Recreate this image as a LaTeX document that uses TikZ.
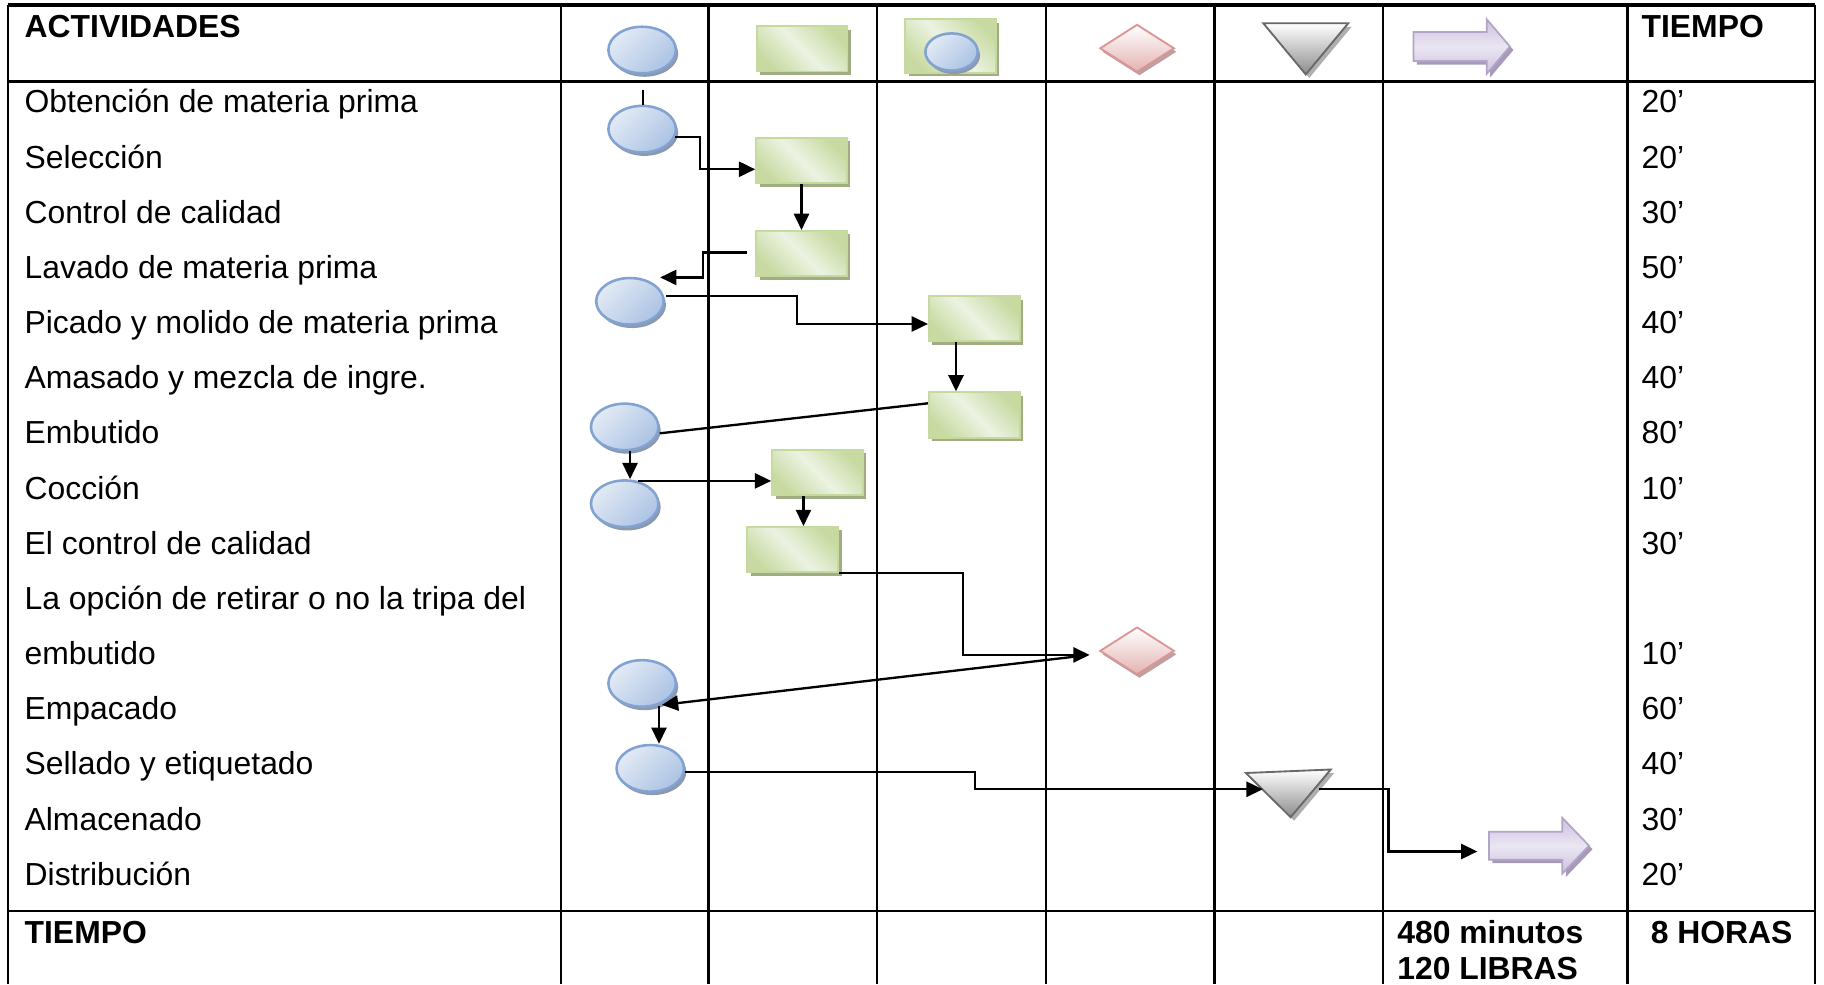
\documentclass[tikz,border=0pt]{standalone}
\usepackage{fontspec}
\setmainfont{Liberation Sans}
\usetikzlibrary{shapes.geometric,shadows,arrows.meta,calc}
\definecolor{ellB}{RGB}{130,163,210}
\definecolor{ellL}{RGB}{226,234,245}
\definecolor{ellD}{RGB}{172,195,228}
\definecolor{ellS}{RGB}{140,152,172}
\definecolor{recB}{RGB}{198,218,160}
\definecolor{recL}{RGB}{236,243,226}
\definecolor{recD}{RGB}{200,218,162}
\definecolor{recS}{RGB}{160,172,130}
\definecolor{diaB}{RGB}{218,150,148}
\definecolor{diaD}{RGB}{228,178,178}
\definecolor{diaS}{RGB}{190,160,160}
\definecolor{triB}{RGB}{105,105,105}
\definecolor{triD}{RGB}{140,140,140}
\definecolor{triS}{RGB}{175,175,175}
\definecolor{arrB}{RGB}{180,164,200}
\definecolor{arrL}{RGB}{234,230,242}
\definecolor{arrD}{RGB}{204,193,222}
\definecolor{arrS}{RGB}{165,155,185}
\tikzset{
  tline/.style={line width=2pt},
  conn/.style={line width=2pt,-{Triangle[length=14pt,width=13pt]}},
  plainline/.style={line width=2pt},
  oper/.style={ellipse,draw=ellB,line width=2.2pt,minimum width=58pt,minimum height=40pt,inner sep=0pt,
     top color=ellL,bottom color=ellD,shading angle=45,
     drop shadow={shadow xshift=2pt,shadow yshift=-3pt,fill=ellS,opacity=1}},
  insp/.style={rectangle,draw=recB,line width=1.6pt,minimum width=78pt,minimum height=39pt,inner sep=0pt,
     left color=recD,right color=recD,middle color=recL,shading angle=135,
     drop shadow={shadow xshift=3pt,shadow yshift=-3pt,fill=recS,opacity=1}},
  decis/.style={diamond,draw=diaB,line width=1.6pt,minimum width=64pt,minimum height=41pt,inner sep=0pt,
     top color=white,bottom color=diaD,
     drop shadow={shadow xshift=2pt,shadow yshift=-3pt,fill=diaS,opacity=1}},
  anchorbox/.style={inner sep=0pt,outer sep=0pt},
  tri/.style={draw=triB,line width=1.6pt,top color=white,bottom color=triD},
  trishadow/.style={fill=triS,transform canvas={shift={(3pt,-3pt)}}},
  barrow/.style={draw=arrB,line width=1.5pt,top color=arrD,bottom color=arrD,middle color=arrL},
  barrowshadow/.style={fill=arrS,transform canvas={shift={(3pt,-3pt)}}},
  txt/.style={anchor=base west,inner sep=0pt,font=\fontsize{27.4}{32}\selectfont},
  btxt/.style={anchor=base west,inner sep=0pt,font=\fontsize{27.4}{32}\selectfont\bfseries},
}
\begin{document}
\begin{tikzpicture}[x=1pt,y=-1pt]
\useasboundingbox (0,0) rectangle (1568,846);
% ---- table grid
\draw[line width=2.6pt] (7,4.3) -- (1560,4.3);
\foreach \x in {7,482,609,754,899,1044,1189,1399,1560} \draw[tline] (\x,4.3) -- (\x,846);
\draw[tline] (7,70) -- (1560,70);
\draw[tline] (7,783) -- (1560,783);
% ---- header texts
\node[btxt] (hAct) at (21,32) {ACTIVIDADES};
\node[btxt] (hTime) at (1411,32) {TIEMPO};
% ---- header symbols
\node[oper] (hE) at (552,43) {};
\node[insp] (hR) at (689.5,42) {};
\node[insp,minimum width=78pt,minimum height=46pt] (hC) at (817,39.4) {};
\node[oper,minimum width=45pt,minimum height=32pt] (hCe) at (818,44.7) {};
\node[decis] (hD) at (977.5,41.5) {};
\node[anchorbox,minimum width=73pt,minimum height=44pt] (hT) at (1122.5,42) {};
\path[trishadow] (hT.north west) -- (hT.north east) -- (hT.south) -- cycle;
\path[tri] (hT.north west) -- (hT.north east) -- (hT.south) -- cycle;
\node[anchorbox,minimum width=83pt,minimum height=47pt] (hA) at (1256.5,40) {};
\path[barrowshadow] (hA.west) ++(0,-12.5) -- ++(63,0) -- ++(0,-11) -- ++(20,23.5) -- ++(-20,23.5) -- ++(0,-11) -- ++(-63,0) -- cycle;
\path[barrow] (hA.west) ++(0,-12.5) -- ++(63,0) -- ++(0,-11) -- ++(20,23.5) -- ++(-20,23.5) -- ++(0,-11) -- ++(-63,0) -- cycle;
% ---- activity texts
\foreach \t [count=\i] in {Obtención de materia prima,Selección,Control de calidad,Lavado de materia prima,Picado y molido de materia prima,Amasado y mezcla de ingre.,Embutido,Cocción,El control de calidad,La opción de retirar o no la tripa del,embutido,Empacado,Sellado y etiquetado,Almacenado,Distribución}
  \node[txt] (act\i) at (21,{97+47.43*(\i-1)}) {\t};
\foreach \i/\t in {1/20,2/20,3/30,4/50,5/40,6/40,7/80,8/10,9/30,11/10,12/60,13/40,14/30,15/20}
  \node[txt] (tm\i) at (1411,{97+47.43*(\i-1)}) {\t’};
% ---- footer
\node[btxt] (fTime) at (21,811) {TIEMPO};
\node[btxt] (fMin) at (1201,811) {480 minutos};
\node[btxt] (fLib) at (1201,842) {120 LIBRAS};
\node[btxt,anchor=base] (fHor) at (1480,811) {8 HORAS};
% ---- process symbols
\node[oper] (E1) at (552,111) {};
\node[insp] (R1) at (689,138) {};
\node[insp] (R2) at (689,218) {};
\node[oper] (E2) at (541.5,259) {};
\node[insp] (R3) at (837.5,274) {};
\node[insp] (R4) at (837.5,356.7) {};
\node[oper] (E3) at (537,367) {};
\node[oper] (E4) at (537,433) {};
\node[insp] (R5) at (702.7,406.3) {};
\node[insp] (R6) at (681.5,472.5) {};
\node[decis] (D) at (977.5,559.5) {};
\node[oper] (E5) at (552,587.5) {};
\node[oper] (E6) at (559,660.5) {};
\node[anchorbox,minimum width=73pt,minimum height=41pt] (T) at (1107.5,682) {};
\path[trishadow] ($(T.north west)+(0,3)$) -- (T.north east) -- ($(T.south)+(2,0)$) -- cycle;
\path[tri] ($(T.north west)+(0,3)$) -- (T.north east) -- ($(T.south)+(2,0)$) -- cycle;
\node[anchorbox,minimum width=86pt,minimum height=48pt] (A) at (1323,727) {};
\path[barrowshadow] (A.west) ++(0,-12) -- ++(63,0) -- ++(0,-12) -- ++(23,24) -- ++(-23,24) -- ++(0,-12) -- ++(-63,0) -- cycle;
\path[barrow] (A.west) ++(0,-12) -- ++(63,0) -- ++(0,-12) -- ++(23,24) -- ++(-23,24) -- ++(0,-12) -- ++(-63,0) -- cycle;
% ---- connectors
\coordinate (start) at (553,77);
\draw[plainline] (start) -- (start |- E1.north);
\draw[conn] ($(E1.east)+(-2,7)$) -- ++(21.5,0) |- ($(R1.west)+(0,7.5)$);
\draw[conn] (R1.south) -- (R2.north);
\draw[conn] ($(R2.west)+(-7,-1)$) -- ++(-37.8,0) |- ($(E2.north)+(26,0.6)$);
\draw[conn] ($(E2.east)+(1,-4.5)$) -- ++(112.3,0) |- ($(R3.west)+(0,4.5)$);
\draw[conn] ($(R3.south)+(-15.7,0)$) -- ($(R4.north)+(-15.7,0)$);
\draw[plainline] ($(R4.west)+(0,-10)$) -- ($(E3.east)+(0,5.5)$);
\draw[conn] ($(E3.south)+(4.6,0)$) -- ($(E4.north)+(4.6,0)$);
\draw[conn] ($(E4.north)+(11.5,1.5)$) coordinate (c9) -- (c9 -| R5.west);
\draw[conn] ($(R5.south)+(-12,0)$) -- ($(R6.north)+(9.2,0)$);
\draw[conn] (R6.south east) -- ++(106.3,0) |- ($(D.west)+(-8,3.5)$);
\draw[conn] ($(D.west)+(-16.6,4.5)$) -- ($(E5.center)+(17,18.5)$);
\draw[conn] ($(E5.south)+(14.5,-2)$) -- ($(E6.north)+(7.5,0)$);
\draw[conn] ($(E6.east)+(0,2.9)$) -- ++(249.3,0) |- ($(T.west)+(14.5,-3.5)$);
\draw[conn] ($(T.west)+(63.2,-3.5)$) -- ++(59.3,0) |- ($(A.west)+(-10,5)$);
\end{tikzpicture}
\end{document}
